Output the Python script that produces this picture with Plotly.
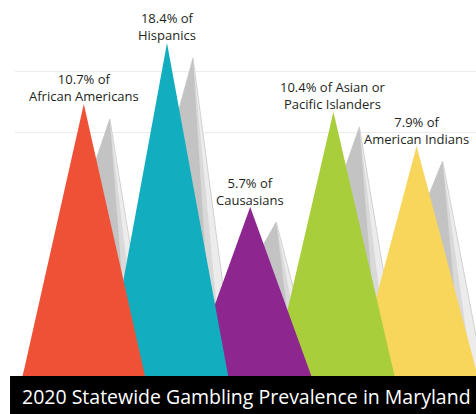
import plotly.graph_objects as go

# ---- data ----
groups = ["|African Americans", "|Hispanics", "|Causasians",
          "Asian or|Pacific Islanders", "|American Indians"]
prevalence = [10.7, 18.4, 5.7, 10.4, 7.9]          # % shown in labels
peak_height = [4.46, 5.46, 2.77, 4.33, 3.77]        # apex height (axis units, gridlines at 4 and 5)
colors = ["#EF5136", "#12AEBF", "#8D268F", "#A9CE3B", "#F8D55B"]
title_text = "2020 Statewide Gambling Prevalence in Maryland"

HALF_W = 0.735          # half base width in category units
SH_DX, SH_DY = 0.3125, 0.246
shadow_layers = [(0.72, "#ececec", "#c8c8c8", 0.8), (0.52, "#d9d9d9", None, 0), (0.34, "#c3c3c3", None, 0)]

fig = go.Figure()
xs = list(range(len(groups)))

# shadows (behind everything)
for i, h in zip(xs, peak_height):
    sx, sy = i + SH_DX, h - SH_DY
    for f, fc, lc, lw in shadow_layers:
        right = sx + f * (HALF_W / h) * sy
        fig.add_trace(go.Scatter(
            x=[sx, i - HALF_W, right, sx], y=[sy, 0, 0, sy],
            mode="lines", fill="toself", fillcolor=fc,
            line=dict(width=lw, color=lc or fc),
            hoverinfo="skip", showlegend=False))

# main triangles, drawn right-to-left so the leftmost is in front
for i in reversed(xs):
    h = peak_height[i]
    fig.add_trace(go.Scatter(
        x=[i - HALF_W, i, i + HALF_W, i - HALF_W], y=[0, h, 0, 0],
        mode="lines", fill="toself", fillcolor=colors[i],
        line=dict(width=0, color=colors[i]),
        hoverinfo="skip", showlegend=False))

font = dict(family="Open Sans", size=13, color="#231f20")
for i, (g, v, h) in enumerate(zip(groups, prevalence, peak_height)):
    pre, post = g.split("|")
    line1 = f"{v}% of" + (" " + pre if pre else "")
    fig.add_annotation(x=i, y=h, text=f"{line1}<br>{post}", showarrow=False,
                       yanchor="middle", yshift=16, font=font)

# black banner with the title
fig.add_shape(type="rect", xref="paper", yref="y", x0=-0.0108, x1=1.01,
              y0=-0.7, y1=0, fillcolor="#000000", line=dict(width=0), layer="above")
fig.add_annotation(xref="paper", yref="y", x=0.502, y=-0.344, text=title_text,
                   showarrow=False, yanchor="middle",
                   font=dict(family="Open Sans", size=19.5, color="#ffffff"))

fig.update_layout(
    width=476, height=414,
    margin=dict(l=15, r=0, t=0, b=0),
    paper_bgcolor="#ffffff", plot_bgcolor="#ffffff",
    xaxis=dict(range=[-0.827, 4.714], showgrid=False, zeroline=False,
               showticklabels=False, ticks="", fixedrange=True),
    yaxis=dict(range=[-0.623, 6.164], tickvals=[4, 5], showgrid=True,
               gridcolor="#ececec", gridwidth=1, zeroline=False,
               showticklabels=False, ticks="", fixedrange=True),
    showlegend=False,
)

fig.write_html("out.html", config={"displayModeBar": False},
               post_script="document.body.style.margin='0';"
                           "document.documentElement.style.overflow='hidden';")
